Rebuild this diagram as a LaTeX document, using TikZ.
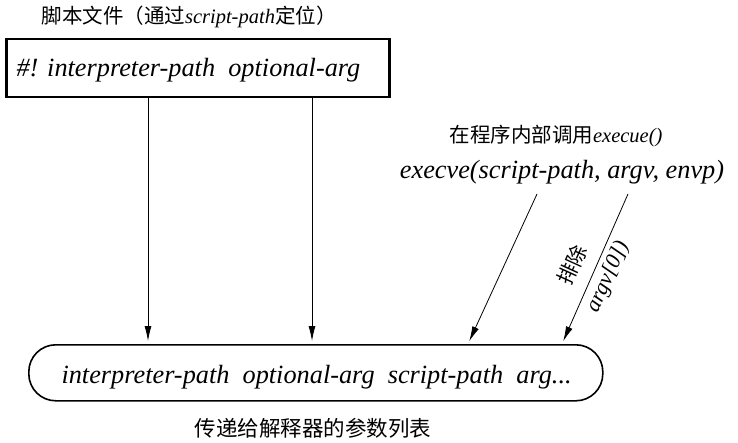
\documentclass[tikz,border=0pt]{standalone}
\usepackage{fontspec}
\setmainfont{Liberation Serif}
\newfontfamily\cjk{Noto Sans CJK SC}
\usetikzlibrary{arrows.meta,positioning}

\tikzset{
  argtext/.style={font=\itshape\fontsize{26.3}{31}\selectfont},
  cjktext/.style={font=\cjk\fontsize{20.5}{24}\selectfont},
  feed/.style={->,line width=0.8pt,shorten >=3pt}
}

\begin{document}
\begin{tikzpicture}[x=1pt,y=-1pt,>={Latex[length=15pt,width=7pt]}]
    \useasboundingbox (0,0) rectangle (738,443);
    % script file
    \node [cjktext, anchor=west] (title) at (38,17) {脚本文件（通过{\rmfamily\itshape script-path}定位）};
    \node [draw, line width=2.5pt, minimum width=383pt, minimum height=58pt, anchor=north west] (script) at (5,38) {};
    \node [argtext, anchor=base west] (shebang) at (13,77) {\#! interpreter-path\ \ optional-arg};
    % argument list
    \node [draw, line width=1.6pt, rounded corners=27pt, minimum width=574pt, minimum height=56pt, anchor=north west] (arglist) at (28,344) {};
    \node [argtext, anchor=base west] (args) at (58,383) {interpreter-path\ \ optional-arg\ \ script-path\ \ arg...};
    \node [cjktext, font=\cjk\fontsize{21.5}{25}\selectfont] (caption) at (313,428) {传递给解释器的参数列表};
    % execve call
    \node [cjktext] (call) at (556,136) {在程序内部调用{\rmfamily\itshape execue()}};
    \node [argtext] (execve) at (562,172) {execve(script-path, argv, envp)};
    \coordinate (interp) at (148,96);
    \coordinate (optarg) at (312,96);
    \coordinate (spath) at (537,194);
    \coordinate (argv) at (628,194);
    \draw [feed] (interp) -- (interp |- arglist.north);
    \draw [feed] (optarg) -- (optarg |- arglist.north);
    \draw [feed] (spath) -- (468,344);
    \draw [feed] (argv) -- (562,344);
    \node [cjktext, inner sep=0pt, rotate=65.5] (drop) at (572,265) {排除};
    \node [argtext, font=\itshape\fontsize{22}{26}\selectfont, inner sep=0pt, rotate=65.5] (argzero) at (608,277) {argv[0])};
\end{tikzpicture}
\end{document}
